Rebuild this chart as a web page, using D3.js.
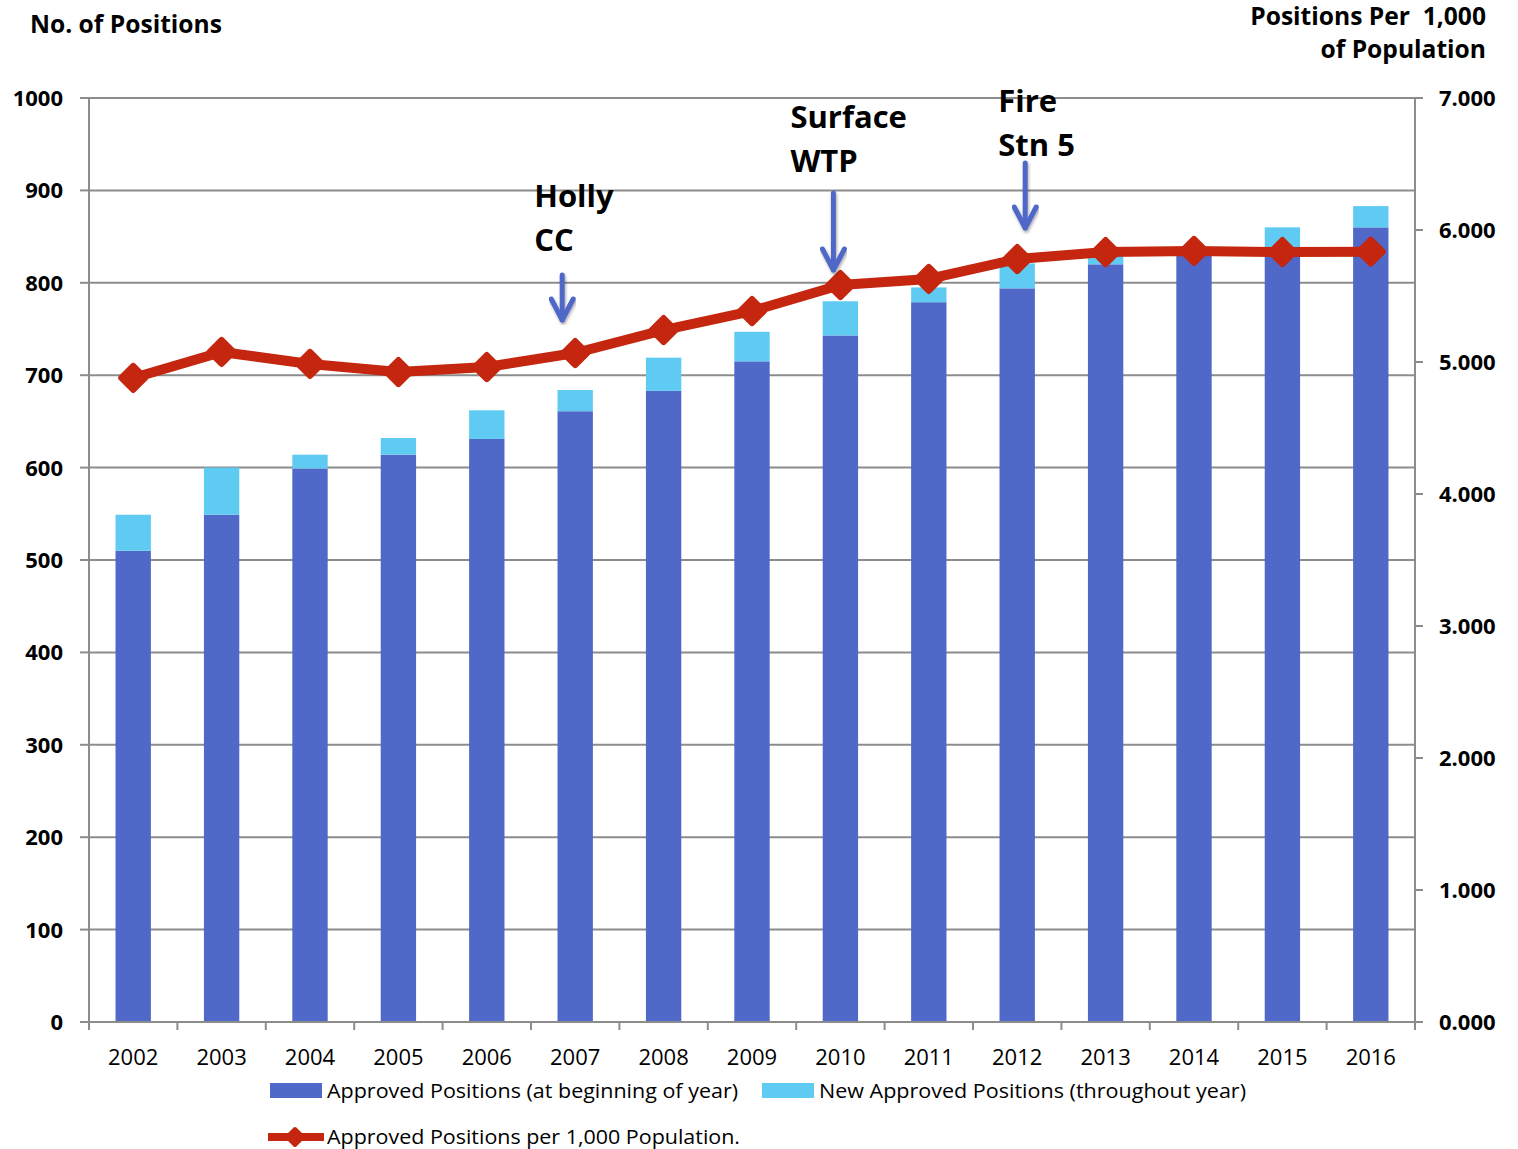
<!DOCTYPE html>
<html>
<head>
<meta charset="utf-8">
<script src="https://cdn.jsdelivr.net/npm/d3@7"></script>
<style>
  body { margin: 0; background: #fff; }
  svg { display: block; font-family: "Open Sans", sans-serif; }
</style>
</head>
<body>
<svg id="chart" width="1518" height="1149"></svg>
<script>
const years = ['2002','2003','2004','2005','2006','2007','2008','2009','2010','2011','2012','2013','2014','2015','2016'];
const approved = [510, 549, 599, 614, 631, 661, 683, 715, 743, 779, 794, 820, 830, 838, 860];
const newApproved = [39, 51, 15, 18, 31, 23, 36, 32, 37, 16, 27, 12, 5, 22, 23];
const perThousand = [4.879, 5.076, 4.985, 4.924, 4.962, 5.068, 5.242, 5.386, 5.583, 5.629, 5.780, 5.833, 5.841, 5.833, 5.836];
const leftTicks = [0, 100, 200, 300, 400, 500, 600, 700, 800, 900, 1000];
const rightTicks = [0, 1, 2, 3, 4, 5, 6, 7];
// annotation: year, label lines, arrow offset from the point, arrow top/length, label offset
const notes = [
  { year: '2007', lines: ['Holly', 'CC'], dx: -13, top: 275, len: 45, tx: -28, ty: -68 },
  { year: '2010', lines: ['Surface', 'WTP'], dx: -7, top: 193, len: 77, tx: -43, ty: -65 },
  { year: '2012', lines: ['Fire', 'Stn 5'], dx: 8, top: 163, len: 65, tx: -27, ty: -51 }
];

const dark = '#5068c8', light = '#5fcbf2', red = '#c4260f', grid = '#8c8c8c';
const m = { left: 89, right: 1415, top: 98, bottom: 1022 };

const svg = d3.select('#chart');
const x = d3.scaleBand().domain(years).range([m.left, m.right]).paddingInner(0.6).paddingOuter(0.3);
const xb = d3.scaleBand().domain(years).range([m.left, m.right]);
const y = d3.scaleLinear().domain([0, 1000]).range([m.bottom, m.top]);
const y2 = d3.scaleLinear().domain([0, 7]).range([m.bottom, m.top]);

// gridlines
svg.append('g').selectAll('line').data(leftTicks.slice(1)).join('line')
  .attr('x1', m.left).attr('x2', m.right)
  .attr('y1', d => y(d)).attr('y2', d => y(d))
  .attr('stroke', grid).attr('stroke-width', 2);

// bars
const bars = svg.append('g');
bars.selectAll('rect.base').data(years).join('rect')
  .attr('x', d => x(d)).attr('width', x.bandwidth())
  .attr('y', (d, i) => y(approved[i])).attr('height', (d, i) => y(0) - y(approved[i]))
  .attr('fill', dark);
bars.selectAll('rect.add').data(years).join('rect')
  .attr('x', d => x(d)).attr('width', x.bandwidth())
  .attr('y', (d, i) => y(approved[i] + newApproved[i]))
  .attr('height', (d, i) => y(approved[i]) - y(approved[i] + newApproved[i]))
  .attr('fill', light);

// axes
const axisG = svg.append('g').attr('stroke', grid).attr('stroke-width', 2);
axisG.append('line').attr('x1', m.left).attr('x2', m.left).attr('y1', m.top).attr('y2', m.bottom + 8);
axisG.append('line').attr('x1', m.right).attr('x2', m.right).attr('y1', m.top).attr('y2', m.bottom + 8);
axisG.append('line').attr('x1', m.left - 9).attr('x2', m.right + 8).attr('y1', m.bottom).attr('y2', m.bottom);
axisG.selectAll('line.lt').data(leftTicks).join('line')
  .attr('x1', m.left - 9).attr('x2', m.left).attr('y1', d => y(d)).attr('y2', d => y(d));
axisG.selectAll('line.rt').data(rightTicks).join('line')
  .attr('x1', m.right).attr('x2', m.right + 8).attr('y1', d => y2(d)).attr('y2', d => y2(d));
axisG.selectAll('line.bt').data(years.slice(1)).join('line')
  .attr('x1', d => xb(d)).attr('x2', d => xb(d)).attr('y1', m.bottom).attr('y2', m.bottom + 8);

svg.append('g').selectAll('text').data(leftTicks).join('text')
  .attr('x', 63).attr('y', d => y(d) + 8).attr('text-anchor', 'end')
  .attr('font-size', 22).attr('font-weight', 'bold').text(d => d);
svg.append('g').selectAll('text').data(rightTicks).join('text')
  .attr('x', 1439).attr('y', d => y2(d) + 8)
  .attr('font-size', 22).attr('font-weight', 'bold').text(d => d3.format('.3f')(d));
svg.append('g').selectAll('text').data(years).join('text')
  .attr('x', d => xb(d) + xb.bandwidth() / 2).attr('y', 1065).attr('text-anchor', 'middle')
  .attr('font-size', 22).text(d => d);

// axis titles
svg.append('text').attr('x', 30).attr('y', 33).attr('font-size', 24.6).attr('font-weight', 'bold').text('No. of Positions');
svg.append('text').attr('x', 1486).attr('y', 25).attr('text-anchor', 'end').attr('font-size', 24.6).attr('font-weight', 'bold')
  .style('white-space', 'pre').text('Positions Per  1,000');
svg.append('text').attr('x', 1486).attr('y', 58).attr('text-anchor', 'end').attr('font-size', 24.6).attr('font-weight', 'bold').text('of Population');

// line
const cx = d => xb(d) + xb.bandwidth() / 2;
const line = d3.line().x(d => cx(d)).y((d, i) => y2(perThousand[i]));
svg.append('path').datum(years).attr('d', line)
  .attr('fill', 'none').attr('stroke', red).attr('stroke-width', 10).attr('stroke-linejoin', 'round');
const diamond = 'M0,-12L12,0L0,12L-12,0Z';
svg.append('g').selectAll('path').data(years).join('path')
  .attr('transform', (d, i) => `translate(${cx(d)},${y2(perThousand[i])})`)
  .attr('d', diamond).attr('fill', red).attr('stroke', red).attr('stroke-width', 6).attr('stroke-linejoin', 'round');

// annotations
const defs = svg.append('defs');
defs.append('filter').attr('id', 'shadow').append('feDropShadow')
  .attr('dx', 1).attr('dy', 2).attr('stdDeviation', 1.5).attr('flood-color', '#000').attr('flood-opacity', 0.35);
notes.forEach(n => {
  const ax = cx(n.year) + n.dx;
  const g = svg.append('g');
  n.lines.forEach((t, i) => {
    g.append('text').attr('x', ax + n.tx).attr('y', n.top + n.ty + i * 44)
      .attr('font-size', 31).attr('font-weight', 'bold').text(t);
  });
  const a = g.append('g').attr('filter', 'url(#shadow)')
    .attr('stroke', dark).attr('stroke-width', 5).attr('fill', 'none').attr('stroke-linecap', 'round').attr('stroke-linejoin', 'round');
  a.append('line').attr('x1', ax).attr('x2', ax).attr('y1', n.top).attr('y2', n.top + n.len);
  a.append('path').attr('d', `M${ax - 11},${n.top + n.len - 21}L${ax},${n.top + n.len}L${ax + 11},${n.top + n.len - 21}`);
});

// legend
const lg = svg.append('g').attr('font-size', 20);
lg.append('rect').attr('x', 270).attr('y', 1083).attr('width', 52).attr('height', 15).attr('fill', dark);
lg.append('text').attr('x', 327).attr('y', 1098).attr('textLength', 411).attr('lengthAdjust', 'spacingAndGlyphs').text('Approved Positions (at beginning of year)');
lg.append('rect').attr('x', 762).attr('y', 1083).attr('width', 52).attr('height', 15).attr('fill', light);
lg.append('text').attr('x', 819).attr('y', 1098).attr('textLength', 427).attr('lengthAdjust', 'spacingAndGlyphs').text('New Approved Positions (throughout year)');
lg.append('line').attr('x1', 268).attr('x2', 324).attr('y1', 1137).attr('y2', 1137).attr('stroke', red).attr('stroke-width', 8);
lg.append('path').attr('transform', 'translate(295,1137)').attr('d', 'M0,-8L8,0L0,8L-8,0Z').attr('fill', red).attr('stroke', red).attr('stroke-width', 4).attr('stroke-linejoin', 'round');
lg.append('text').attr('x', 327).attr('y', 1144).attr('textLength', 413).attr('lengthAdjust', 'spacingAndGlyphs').text('Approved Positions per 1,000 Population.');
</script>
</body>
</html>
